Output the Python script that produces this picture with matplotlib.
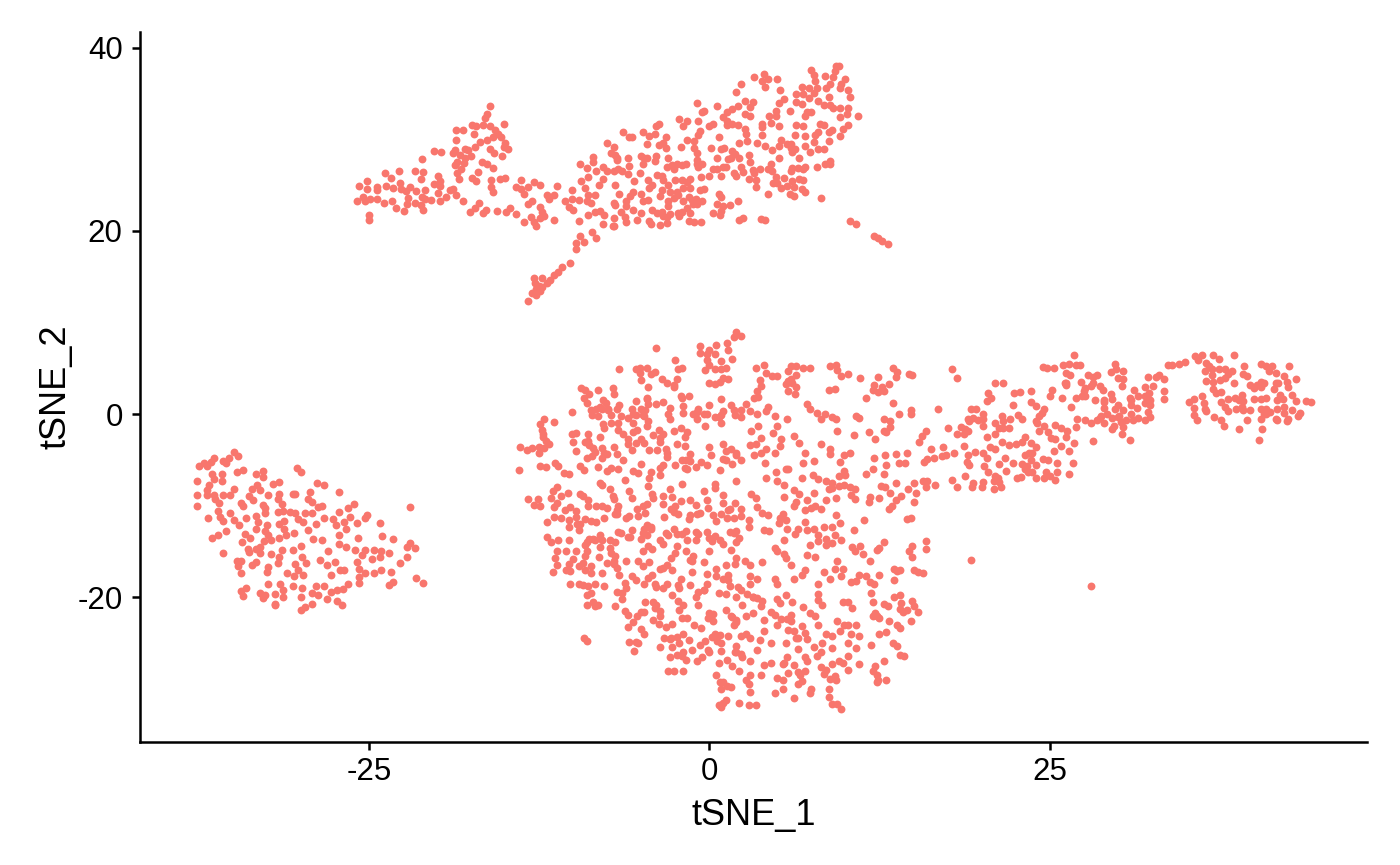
import numpy as np
import matplotlib
matplotlib.use("Agg")
import matplotlib.pyplot as plt

plt.rcParams['font.family'] = ['Liberation Sans', 'DejaVu Sans']
plt.rcParams['axes.unicode_minus'] = False

# Values, in tSNE units (approximate)
left_cluster = [
(-34.9,-4.1),(-34.6,-4.6),(-35.3,-4.8),(-35.7,-5.1),(-36.4,-4.8),(-36.6,-5.2),(-37.1,-5.4),(-37.5,-5.7),(-36.9,-5.7),(-35.5,-5.4),
(-34.2,-6.1),(-34.7,-6.3),(-32.8,-6.2),(-33.3,-6.5),(-32.8,-6.9),(-30.3,-5.9),(-30.0,-6.3),(-37.6,-7.3),(-36.5,-6.6),(-35.8,-6.5),
(-35.8,-7.3),(-36.4,-7.1),(-36.7,-7.8),(-36.9,-8.3),(-37.6,-8.8),(-36.9,-8.8),(-36.4,-8.8),(-36.3,-9.3),(-36.0,-9.7),(-35.7,-8.8),
(-35.2,-8.8),(-34.9,-8.2),(-37.6,-10.0),(-33.2,-7.7),(-33.0,-8.3),(-33.6,-8.2),(-33.8,-9.0),(-33.5,-9.4),(-32.4,-8.8),(-31.6,-7.4),
(-32.0,-7.6),(-31.6,-8.7),(-31.7,-9.3),(-31.4,-9.8),(-30.6,-8.7),(-30.4,-8.7),(-29.3,-8.5),(-28.8,-7.5),(-28.3,-7.7),(-29.5,-9.3),
(-29.2,-9.6),(-27.2,-8.5),(-34.4,-9.7),(-34.2,-10.0),(-32.8,-9.9),(-32.6,-10.3),(-32.6,-10.8),(-31.7,-10.7),(-31.3,-10.6),(-30.8,-10.7),
(-30.4,-10.8),(-29.7,-10.8),(-29.2,-10.8),(-28.4,-10.0),(-28.7,-10.1),(-26.1,-9.8),(-26.5,-10.3),(-27.2,-10.7),(-22.0,-10.2),(-25.1,-11.0),
(-25.3,-11.4),(-36.1,-10.6),(-36.8,-11.3),(-35.9,-11.2),(-35.7,-11.7),(-35.2,-10.8),(-34.9,-11.6),(-34.5,-12.1),(-34.0,-11.3),(-33.3,-11.1),
(-33.1,-11.8),(-33.3,-12.5),(-32.5,-12.1),(-32.6,-12.8),(-31.6,-12.0),(-31.2,-11.7),(-30.2,-11.5),(-29.8,-11.8),(-28.3,-11.4),(-28.9,-12.0),
(-27.6,-11.5),(-27.4,-12.1),(-26.4,-11.2),(-26.8,-11.8),(-25.9,-11.9),(-24.2,-11.9),(-35.5,-12.8),(-36.5,-13.5),(-36.1,-13.2),(-34.1,-13.1),
(-33.7,-13.5),(-32.4,-13.2),(-31.2,-12.6),(-31.1,-13.2),(-30.5,-13.0),(-29.5,-12.7),(-26.7,-12.5),(-27.2,-13.2),(-25.8,-13.5),(-24.0,-13.3),
(-23.2,-13.6),(-29.1,-13.6),(-28.4,-13.8),(-34.3,-14.0),(-33.9,-14.7),(-33.8,-15.1),(-32.7,-13.9),(-32.2,-13.8),(-31.6,-13.5),(-33.3,-14.7),
(-33.0,-14.5),(-33.0,-15.2),(-35.7,-15.2),(-31.4,-14.8),(-30.6,-14.8),(-30.0,-14.4),(-28.0,-15.0),(-27.2,-14.2),(-26.7,-14.5),(-26.0,-14.8),
(-25.3,-14.8),(-24.6,-14.8),(-24.1,-15.0),(-23.5,-15.2),(-22.0,-14.1),(-21.6,-14.6),(-22.2,-14.5),(-34.7,-16.0),(-34.4,-16.0),(-34.6,-16.6),
(-34.4,-17.3),(-33.6,-16.5),(-33.3,-16.1),(-32.2,-15.3),(-31.6,-15.6),(-31.7,-16.3),(-32.4,-16.7),(-32.5,-17.2),(-29.9,-15.6),(-30.4,-16.4),
(-29.6,-16.3),(-30.2,-17.0),(-28.6,-15.9),(-28.1,-16.5),(-27.5,-16.1),(-27.8,-17.6),(-27.1,-17.0),(-26.8,-17.0),(-25.9,-16.1),(-25.5,-15.4),
(-25.7,-16.9),(-25.3,-17.4),(-24.6,-17.4),(-24.1,-17.0),(-23.4,-17.2),(-24.8,-15.8),(-24.2,-15.6),(-22.7,-16.3),(-22.2,-15.6),(-31.0,-17.3),
(-30.5,-17.7),(-29.8,-17.6),(-32.4,-18.5),(-31.5,-18.5),(-31.3,-19.2),(-30.6,-18.8),(-29.9,-19.0),(-28.9,-18.8),(-28.3,-18.8),(-29.2,-19.5),
(-28.7,-19.8),(-27.8,-19.4),(-27.3,-19.2),(-26.9,-19.1),(-26.5,-18.5),(-25.7,-18.4),(-25.7,-17.8),(-23.5,-18.7),(-23.2,-18.3),(-21.5,-17.9),
(-21.0,-18.4),(-34.4,-19.3),(-34.0,-19.0),(-34.2,-19.9),(-33.0,-19.5),(-32.8,-20.1),(-32.6,-19.8),(-31.9,-19.6),(-31.3,-20.0),(-30.0,-20.0),
(-28.1,-20.2),(-27.3,-20.4),(-27.0,-20.9),(-29.2,-20.7),(-31.9,-20.7),(-31.9,-20.9),(-29.7,-21.1),(-30.0,-21.4),
]

top_cluster = [
(-16.1,33.6),(-16.3,32.8),(-16.5,32.3),(-16.6,31.5),(-17.4,31.5),(-17.1,31.4),(-16.1,31.4),(-15.7,31.0),(-15.5,30.6),(-15.1,31.7),
(-18.6,31.0),(-18.1,31.0),(-17.3,30.6),(-15.3,30.2),(-15.9,30.2),(-16.3,29.9),(-16.8,29.7),(-17.2,29.2),(-18.6,29.9),(-15.0,29.6),
(-15.1,29.1),(-14.8,28.9),(-16.1,28.9),(-15.8,28.5),(-15.2,28.2),(-18.7,28.8),(-18.8,28.5),(-17.9,28.9),(-17.7,28.8),(-18.3,28.3),
(-17.9,27.9),(-17.5,28.2),(-20.2,28.7),(-19.7,28.6),(-21.1,27.8),(-18.5,27.5),(-18.7,27.2),(-18.0,27.4),(-18.2,26.8),(-16.7,27.5),
(-16.3,27.3),(-15.9,26.9),(-18.5,26.3),(-18.4,25.7),(-17.0,26.4),(-17.4,25.8),(-17.1,25.4),
(-22.8,26.5),(-23.8,26.3),(-23.4,25.8),(-21.6,26.5),(-21.0,26.4),(-21.2,25.7),(-19.9,26.0),(-19.8,25.4),(-20.2,25.1),(-19.8,24.9),
(-25.7,24.9),(-25.1,25.4),(-24.4,24.8),(-24.4,24.4),(-25.1,24.6),(-23.7,24.9),(-23.2,24.7),(-22.7,25.2),(-22.6,24.6),(-22.0,24.8),
(-22.3,24.3),(-21.5,24.3),(-20.9,24.5),(-19.0,24.5),(-18.8,24.6),(-18.6,23.9),(-19.3,23.7),(-19.9,24.1),(-22.1,23.6),(-20.4,23.4),
(-20.9,23.5),(-21.1,23.7),(-24.4,23.5),(-24.9,23.5),(-25.4,23.7),(-25.9,23.2),(-25.3,23.3),(-23.3,23.3),(-23.9,23.0),(-22.2,22.9),
(-21.6,23.0),(-21.2,22.8),(-19.8,23.2),(-18.1,23.2),(-23.0,22.5),(-22.4,22.2),(-21.0,22.3),(-25.0,21.7),(-25.0,21.2),
(-17.6,22.0),(-17.2,22.5),(-16.9,23.0),(-16.4,22.3),(-16.6,21.9),(-15.6,22.2),(-14.9,22.0),(-14.6,22.5),(-14.2,21.8),
(-16.0,25.5),(-15.0,25.8),(-15.4,25.7),(-16.0,24.8),(-15.9,24.2),(-14.2,24.8),(-13.8,25.5),(-13.8,24.6),(-13.3,24.8),(-12.9,25.3),
(-12.4,25.0),(-11.2,24.9),(-13.6,24.0),(-13.0,23.2),(-13.3,22.9),(-12.4,22.6),(-12.3,22.0),(-12.4,21.4),(-11.9,23.9),(-11.4,23.9),
(-11.8,23.5),(-13.6,21.0),(-13.1,21.5),(-12.9,21.0),(-12.7,20.5),(-12.1,21.6),(-11.4,21.2),
(-10.6,23.2),(-10.1,24.5),(-10.1,23.5),(-9.6,23.4),(-10.3,22.6),(-10.0,22.3),(-8.9,21.7),(-9.6,21.1),(-8.4,22.1),(-8.0,22.2),
(-7.7,21.7),(-7.8,20.7),(-7.1,20.5),(-7.0,21.4),(-8.6,19.9),(-8.3,19.2),(-9.5,19.4),(-9.8,18.7),(-9.2,18.8),(-9.8,18.0),
(-10.2,16.5),(-10.8,16.1),(-11.4,15.2),(-11.9,14.3),(-12.3,14.8),(-12.8,14.3),(-12.7,13.7),(-12.3,13.9),(-13.0,13.2),(-12.7,13.0),
(-13.3,12.3),(-11.7,14.6),(-11.1,15.5),(-12.5,14.0),(-12.9,14.8),(-12.4,13.4),
(-9.5,27.3),(-9.0,26.9),(-8.5,28.1),(-8.5,27.5),(-9.4,25.4),(-8.9,25.9),(-9.1,24.7),(-8.3,26.5),(-7.8,27.0),(-7.5,26.5),
(-7.8,25.7),(-8.1,25.0),(-8.4,23.9),(-8.9,23.9),(-9.0,23.2),(-8.7,23.0),(-7.5,29.6),(-7.0,29.2),(-7.2,28.5),(-6.8,27.7),
(-7.0,26.5),(-6.9,25.0),(-6.6,24.0),(-6.9,22.8),
(9.3,38.0),(9.5,38.0),(7.5,37.5),(7.7,37.0),(7.8,36.4),(8.5,36.9),(9.2,37.4),(9.1,36.8),(10.0,36.6),(9.7,36.0),
(9.6,35.6),(8.9,36.0),(8.6,35.6),(10.2,35.4),(10.3,34.6),(8.8,34.6),(7.9,35.6),(7.7,35.0),(7.3,35.6),(6.8,35.7),
(7.3,34.5),(6.4,34.9),(6.9,34.9),(6.4,34.1),(6.8,33.8),(8.0,34.2),(8.4,33.7),(8.9,33.7),(9.1,33.4),(9.6,33.4),
(10.2,33.4),(10.1,32.7),(10.9,32.5),(9.6,32.4),(7.5,33.0),(7.2,33.0),(7.0,32.5),(3.3,36.8),(4.0,37.1),(4.35,36.6),
(5.0,36.6),(3.9,36.3),(4.1,35.7),(2.3,36.0),(2.0,35.1),(5.2,35.4),(5.5,34.4),(5.1,34.0),(2.6,34.2),(3.2,34.1),
(3.0,33.5),(2.1,33.6),(1.7,33.3),(1.3,33.0),(0.6,33.6),(-0.9,34.0),(-0.4,33.1),(-0.5,33.0),(5.9,33.1),(4.9,33.1),
(4.4,32.5),(4.9,32.5),(2.6,32.8),(3.0,32.5),(1.0,32.4),(1.3,32.0),(1.3,31.5),(1.7,31.7),(2.1,31.6),(2.6,31.1),
(3.9,31.7),(3.9,31.3),(4.5,31.8),(5.1,31.4),(6.4,31.5),(6.9,31.4),(8.1,31.7),(8.4,31.6),(10.2,31.5),(9.8,31.1),
(9.0,31.0),(8.8,30.8),(8.0,30.8),(7.8,30.5),(7.0,30.4),(6.3,30.5),(9.6,30.3),(8.8,29.8),(7.7,29.7),(-2.2,32.2),
(-1.9,31.4),(-1.6,32.0),(-0.8,32.0),(0.0,31.4),(0.3,31.7),(-0.7,30.9),(-0.8,30.5),(-6.3,30.8),(-5.9,30.2),(-5.7,30.2),
(-4.9,30.8),(-4.4,30.3),(-4.0,30.6),(-3.9,31.4),(-3.7,31.7),(-3.2,30.2),(-3.7,29.4),(-3.4,29.6),(-3.2,29.0),(-2.1,29.2),
(-1.6,29.9),(-1.1,29.8),(-1.1,29.0),(-0.9,28.5),(-0.9,27.7),(-0.8,27.0),(-0.9,27.3),(-0.5,27.3),(0.9,28.9),(1.1,29.0),
(1.7,28.7),(1.9,28.4),(2.2,28.0),(2.8,29.8),(3.5,29.6),(4.1,29.3),(4.6,28.8),(5.3,29.9),(5.1,29.3),(5.7,29.5),
(6.0,29.5),(6.0,29.0),(6.1,28.6),(6.3,28.9),(7.0,29.3),(7.4,28.6),(8.4,28.9),(8.0,28.9),(8.9,27.6),(8.9,27.3),
(8.5,27.3),(7.9,27.0),(7.0,27.0),(6.9,26.7),(6.5,26.9),(6.1,26.9),(6.0,26.5),(6.6,25.7),(6.9,25.5),(6.1,25.4),
(5.5,25.8),(5.0,25.2),(4.5,27.3),(4.6,26.5),(4.9,25.9),(3.2,26.6),(3.7,26.8),(4.3,26.8),(2.9,28.3),(3.0,27.5),
(2.3,27.0),(2.5,26.4),(2.0,26.0),(1.2,27.0),(0.6,28.0),(1.0,27.0),(1.4,27.8),(1.6,28.0),(0.6,26.8),(0.9,26.0),
(1.8,26.3),(2.9,25.6),(3.4,25.5),(3.4,24.8),(3.3,26.3),(4.3,24.0),(4.7,25.2),(5.3,24.7),(5.7,24.9),(6.2,24.8),
(6.8,24.6),(7.0,24.2),(8.2,23.6),(3.8,21.3),(5.9,24.0),(4.1,21.2),(6.2,23.8),(2.5,21.4),(2.2,21.2),
(-6.9,28.3),(-6.8,27.9),(-6.0,27.9),(-5.0,28.2),(-4.8,28.0),(-4.6,28.0),(-4.9,27.3),(-5.9,27.1),(-6.7,26.7),(-6.4,26.5),
(-6.0,26.2),(-5.1,26.3),(-4.5,25.5),(-3.8,26.1),(-3.5,26.0),(-3.4,25.5),(-3.0,25.0),(-2.5,25.5),(-2.0,25.5),(-1.6,25.3),
(-1.4,24.7),(-0.6,25.9),(-0.4,24.6),(-0.7,24.4),(-1.5,23.7),(-1.9,24.7),(-2.4,24.2),(-2.9,24.2),(-3.5,24.4),(-4.4,24.7),
(-4.2,25.0),(-5.5,25.4),(-5.8,23.8),(-5.6,24.2),(-6.1,23.3),(-5.0,24.0),(-4.9,23.2),(-4.5,23.4),(-3.6,23.8),(-3.0,23.2),
(-2.6,23.6),(-2.3,23.9),(-1.9,23.3),(-1.3,23.4),(-1.0,23.5),(-0.9,22.9),(0.7,24.0),(0.9,23.7),(2.1,23.2),(1.5,22.8),
(1.0,22.7),(0.9,22.2),(0.8,21.7),(0.3,21.9),(0.6,22.9),(-0.5,23.3),(-1.2,22.9),(-1.6,22.5),(-1.4,21.9),(-2.0,22.0),
(-3.0,22.7),(-3.5,22.1),(-4.2,22.3),(-5.0,21.9),(-5.6,22.3),(-6.1,22.7),(-6.5,22.0),(-6.2,21.5),(-5.3,21.2),(-4.4,21.1),
(-3.8,21.9),(-3.4,21.6),(-3.1,21.5),(-2.3,21.9),(-2.2,21.6),(-1.5,21.1),(-1.1,21.0),(-0.6,21.0),(-3.1,20.8),(-2.9,21.8),
(-6.1,21.0),(-7.0,20.5),(-4.3,20.7),(-3.6,20.6),(-7.0,23.0),(-2.4,27.3),(-2.6,26.8),(-3.1,27.0),(-2.7,27.2),(-3.0,27.9),
(-4.6,29.5),(-3.9,28.2),(-4.0,27.6),(-2.0,27.2),(-1.7,27.3),(2.7,30.6),(3.9,30.5),(2.2,29.6),(0.7,30.2),(0.1,29.0),
(0.3,26.7),(0.0,26.0),(-1.4,25.6),(6.6,28.0),(5.1,28.0),
(10.3,21.1),(10.8,20.7),(12.1,19.4),(12.4,19.2),(12.7,18.9),(13.1,18.6),
]

central_cluster = [
(-3.9,7.2),(-0.7,7.4),(1.2,5.0),(-0.2,6.5),(0.4,6.6),(-6.6,4.9),(-5.1,5.0),(-5.4,4.9),(-4.6,5.0),(-4.0,4.6),(-4.3,4.4),
(-5.1,4.5),(-5.0,3.7),(-3.5,3.8),(-3.1,3.4),(-2.5,5.9),(-2.0,5.0),(-2.3,4.9),(-2.4,3.8),(-2.6,3.2),(-2.6,3.0),(-0.7,6.7),(-0.2,5.9),(-0.0,5.3),
(-0.3,4.8),(0.4,4.9),(0.9,4.9),(0.9,5.8),(-0.0,7.0),(0.5,7.5),(1.3,7.7),(1.4,7.0),(1.8,8.4),(2.3,8.5),(2.0,8.9),(1.7,6.0),(1.0,3.9),
(1.4,3.8),(0.0,3.4),(0.4,3.3),(0.8,3.5),(-4.5,2.9),(-9.4,2.8),(-9.1,2.6),(-8.8,2.2),(-9.2,1.7),(-9.0,1.2),(-8.2,2.6),(-7.1,2.8),(-7.0,2.2),
(-7.8,1.5),(-7.6,1.2),(-8.0,0.8),(-7.4,0.6),(-8.7,0.4),(-8.3,0.6),(-7.9,0.5),(-7.4,0.4),(-7.2,-0.1),(-6.8,0.6),(-6.6,1.0),(-5.7,0.6),
(-5.4,1.4),(-4.6,1.7),(-5.6,0.0),(-6.0,-0.4),(-6.5,-0.2),(-5.4,-0.1),(-4.9,-0.1),(-5.0,0.6),(-4.5,1.1),(-4.6,1.6),(-4.7,0.4),(-3.9,1.1),
(-3.4,1.3),(-4.8,-0.2),(-4.5,-0.8),(-2.9,0.7),(-3.0,0.0),(-2.9,-0.5),(-2.1,2.0),(-2.0,1.8),(-1.9,0.9),(-1.9,0.1),(-1.5,2.0),(-1.2,0.0),
(0.9,1.6),(0.0,1.0),(-0.2,0.0),(-0.9,0.2),(-0.4,0.0),(-0.8,0.5),(-10.1,0.2),(-8.6,-0.1),(-8.2,-0.2),(-6.7,-1.0),(-7.8,-1.1),(-7.2,-1.0),
(-7.7,-1.5),(-6.7,-1.7),(-6.3,-2.2),(-5.6,-2.0),(-5.3,-1.7),(-5.6,-1.0),(-4.6,-1.3),(-4.1,-2.3),(-3.7,-1.7),(-3.6,-2.6),(-3.4,-2.2),(-2.6,-1.9),
(-2.1,-1.5),(-1.6,-2.0),(-1.8,-2.5),(-0.9,-0.5),(-0.3,-1.3),(0.4,-0.3),(0.7,-0.3),(0.9,-1.0),(0.9,-0.1),(1.0,0.3),(1.9,-0.1),(2.3,0.4),
(1.6,1.0),(1.8,0.4),(2.3,-0.3),(-12.1,-0.5),(-12.4,-1.1),(-12.3,-1.7),(-11.4,-0.9),(-10.1,-2.2),(-9.8,-2.1),(-9.1,-3.0),(-8.9,-2.2),(-8.0,-2.5),
(-7.0,-3.6),(-6.0,-2.7),(-6.0,-3.3),(-5.4,-3.2),(-5.0,-2.7),(-12.2,-2.2),(-12.2,-2.5),(-12.0,-2.9),(-11.8,-3.3),(-12.5,-3.6),(-13.9,-3.6),(-13.4,-3.9),(-13.0,-3.7),
(-12.1,-3.7),(-12.5,-4.3),(-10.0,-3.0),(-8.9,-2.9),(-8.8,-3.4),(-8.5,-3.7),(-8.4,-4.1),(-7.9,-3.7),(-7.7,-4.2),(-7.9,-4.8),(-7.5,-4.4),
(-8.6,-4.6),(-9.8,-4.0),(-6.8,-4.4),(-6.3,-5.0),(-5.7,-3.9),(-4.8,-3.2),(-4.4,-3.9),(-3.6,-3.1),(-3.8,-3.9),(-3.2,-3.8),(-2.4,-3.3),(-1.8,-3.5),
(-1.7,-5.0),(-1.4,-4.4),(0.0,-3.6),(-1.8,-5.9),(-3.1,-4.7),(-3.4,-5.6),(-3.6,-5.9),(0.1,-4.5),(1.0,-3.3),(1.6,-3.8),(1.2,-4.0),(2.0,-4.5),
(-14.0,-6.1),(-12.0,-5.8),(-12.4,-5.7),(-11.3,-5.4),(-11.1,-5.7),(-10.7,-6.4),(-10.3,-6.6),(-9.0,-4.8),(-9.5,-5.7),(-9.2,-6.1),(-8.2,-5.8),(-7.2,-5.9),(-7.5,-6.2),
(-6.7,-6.0),(-6.2,-7.2),(-5.6,-6.2),(-5.2,-6.4),(-5.0,-5.5),(-4.3,-6.3),(-4.4,-7.0),(-4.5,-7.9),(-3.6,-6.7),(-3.1,-4.2),(-2.5,-5.6),(-2.0,-5.0),
(-1.6,-6.0),(-1.4,-5.1),(-1.0,-5.8),(-0.6,-5.2),(-0.2,-5.6),(0.8,-6.1),(1.2,-5.0),(1.7,-5.5),(1.0,-4.9),(-11.6,-9.2),(-11.2,-9.7),(-11.4,-11.2),
(-10.4,-8.6),(-10.2,-10.1),(-9.8,-10.6),(-9.8,-11.2),(-8.0,-7.5),(-7.9,-7.7),(-7.3,-8.2),(-7.1,-8.9),(-7.0,-9.3),(-6.7,-10.0),(-5.9,-8.4),(-5.7,-9.2),
(-5.3,-10.4),(-4.9,-10.0),(-4.6,-9.8),(-4.2,-8.7),(-4.1,-9.2),(-3.4,-8.9),(-2.9,-8.2),(-2.7,-9.1),(-2.5,-10.0),(-2.6,-10.7),(-2.1,-9.5),(-1.4,-9.4),
(-1.4,-11.0),(-1.0,-9.9),(-0.4,-8.4),(-0.2,-9.4),(-0.1,-10.3),(0.3,-11.0),(1.0,-8.8),(1.0,-9.7),(1.5,-10.4),(1.9,-9.7),(2.3,-10.4),(2.3,-11.1),
(-13.3,-9.3),(-12.6,-9.3),(-12.9,-9.9),(-12.4,-10.0),(-11.5,-8.4),(-11.2,-8.0),(-10.9,-9.0),(-11.4,-10.1),(-10.6,-10.5),(-9.5,-8.7),(-9.3,-9.0),(-8.9,-9.4),
(-8.9,-10.0),(-8.3,-10.0),(-7.9,-10.0),(-7.5,-10.3),(-6.8,-10.5),(-6.8,-10.9),(-5.9,-11.1),(-5.2,-11.1),(-4.7,-10.8),(-3.4,-9.8),(-2.8,-10.4),(-2.0,-7.6),(-0.7,-10.8),(0.4,-7.6),(0.4,-8.1),(1.4,-10.5),
(-11.9,-11.8),(-10.9,-11.4),(-10.3,-11.6),(-9.7,-12.0),(-10.3,-12.3),(-9.5,-12.0),(-9.1,-11.5),(-8.7,-11.7),(-8.3,-11.8),(-7.7,-11.3),(-9.6,-12.7),(-6.9,-10.9),(-6.1,-11.4),(-3.3,-11.2),(-2.3,-10.9),(-1.5,-11.5),
(-0.9,-10.9),(0.5,-11.7),(0.9,-10.9),(1.3,-11.4),(1.8,-11.4),(-4.6,-12.1),(-4.3,-12.3),(-4.8,-12.5),(-2.6,-12.5),(-2.4,-13.1),(-1.7,-12.8),(-1.0,-12.9),(-0.2,-12.9),(0.4,-13.3),(0.8,-13.8),(1.8,-13.0),
(-6.5,-13.0),(-5.8,-13.4),(-8.0,-13.2),(-8.5,-13.6),(-11.1,-13.7),(-9.1,-14.3),(-7.3,-13.8),
(3.4,5.0),(4.0,5.3),(4.2,4.5),(4.6,4.1),(5.0,4.2),(5.8,4.7),(6.0,5.2),(6.4,5.2),(6.9,5.0),(7.4,5.0),(6.0,3.8),(5.8,3.6),(6.4,4.3),(6.1,3.4),
(3.7,3.7),(3.8,3.1),(8.9,5.2),(9.3,5.4),(9.4,4.8),(9.7,4.2),(10.2,4.4),(11.1,3.9),(12.1,3.2),(12.7,2.9),(13.2,3.3),(12.4,4.0),(13.5,5.0),(13.8,4.6),
(13.7,4.0),(14.7,4.4),(14.9,4.3),(3.5,2.5),(3.6,1.9),(5.6,3.3),(5.8,2.5),(6.3,2.2),(6.4,2.9),(8.8,2.6),(9.2,2.7),(12.0,2.6),(12.4,2.4),(12.8,2.5),
(11.5,1.8),(13.5,1.2),(12.8,-0.5),(13.3,-0.8),(13.9,0.0),(14.8,-0.0),(14.8,0.4),(3.3,1.7),(2.7,1.1),(3.0,0.3),(3.5,-0.0),(4.3,0.8),(4.2,0.3),
(4.8,-0.2),(5.7,-0.5),(5.0,-1.3),(7.2,1.1),(7.4,0.5),(7.9,0.1),(8.5,-0.0),(9.0,-0.3),(8.2,-0.5),(9.3,-0.5),(10.8,-0.2),(11.0,-0.4),(10.6,-2.3),(11.7,-2.0),(12.2,-2.7),
(13.0,-2.0),(12.8,-1.8),(13.3,-1.4),(15.9,-1.8),(15.6,-2.4),(15.4,-3.0),(3.6,-1.3),(3.1,-1.9),(3.8,-2.6),(4.7,-2.1),(4.2,-3.8),(3.8,-4.3),(4.8,-4.3),
(5.2,-3.5),(5.3,-2.7),(6.2,-2.4),(6.6,-3.2),(7.0,-4.2),(9.4,-1.8),(8.2,-3.3),(8.9,-3.8),(8.9,-4.4),(7.7,-5.1),(9.9,-4.5),(10.3,-4.3),(12.1,-4.8),(12.9,-4.5),
(13.7,-4.4),(13.9,-5.3),(14.4,-5.3),(14.5,-4.2),(15.8,-5.2),(16.5,-4.8),(2.3,-5.0),(2.0,-4.3),(3.0,-3.4),(3.4,-3.3),(3.3,-4.5),(5.6,-6.0),(5.8,-6.0),(4.1,-5.4),(2.0,-7.3),(4.2,-7.0),(4.9,-6.3),
(6.8,-7.0),(6.9,-5.3),(7.6,-6.7),(8.0,-7.1),(8.6,-7.3),(9.5,-6.8),(10.0,-6.7),(9.6,-5.2),(9.9,-6.2),(11.5,-6.6),(12.0,-6.0),(12.6,-7.9),(12.8,-6.5),(13.0,-5.6),(13.7,-7.5),(14.6,-8.2),(15.0,-7.5),
(16.0,-7.3),(16.6,-7.7),(15.9,-8.0),(15.7,-7.3),(3.4,-9.2),(3.1,-8.7),(3.9,-10.8),(5.0,-7.3),(5.5,-7.8),(6.2,-8.3),(6.6,-8.7),(5.5,-9.1),(6.2,-10.0),(6.4,-9.6),(7.2,-9.4),(7.5,-10.3),(7.0,-10.5),
(7.8,-10.0),(8.2,-10.4),(7.7,-8.6),(8.8,-8.2),(8.6,-9.4),(9.3,-9.2),(9.0,-8.1),(9.0,-7.5),(9.5,-7.9),(9.9,-7.7),(10.3,-8.0),(10.7,-8.2),(10.4,-8.8),(10.7,-9.3),(11.8,-9.1),(11.7,-9.6),
(12.5,-9.2),(12.9,-8.0),(13.3,-8.6),(13.7,-9.4),(14.1,-9.0),(15.0,-9.6),(15.2,-8.6),(13.4,-10.0),(13.2,-10.4),(14.8,-11.3),(14.5,-11.5),(2.9,-11.6),(3.5,-10.1),(4.3,-11.0),(5.4,-10.9),(5.6,-11.6),
(2.0,-12.8),(2.9,-12.3),(4.0,-12.7),(4.4,-12.8),(5.2,-11.4),(5.1,-11.9),(5.7,-12.5),(7.0,-11.8),(6.5,-12.5),(6.3,-13.1),(7.2,-12.7),(7.7,-12.5),(8.0,-13.2),(8.4,-12.3),(9.0,-12.3),(9.3,-11.0),(9.6,-11.9),(9.2,-13.2),(10.6,-12.7),(11.4,-11.6),
(5.5,-13.8),(7.4,-14.3),(8.6,-13.6),(9.0,-14.1),(9.7,-13.7),(11.1,-14.4),(12.3,-14.8),(15.9,-13.9),(15.9,-14.7),
(-11.9,-13.4),(-11.6,-14.0),(-10.3,-13.7),(-8.8,-13.6),(-9.0,-14.0),(-8.4,-13.8),(-7.9,-13.7),(-6.7,-12.9),(-6.9,-14.0),(-5.7,-12.7),(-4.9,-13.0),(-5.0,-13.6),(-4.6,-13.2),(-4.3,-12.6),(-3.2,-13.0),(-3.0,-13.2),
(-2.0,-13.1),(-1.6,-13.8),(-1.0,-13.8),(-0.8,-13.1),(-0.0,-13.5),(1.0,-14.2),(1.5,-12.9),(2.2,-13.5),(-10.5,-14.9),(-9.8,-15.0),(-9.0,-14.9),(-9.1,-15.5),(-8.1,-15.6),(-8.0,-14.5),(-7.2,-15.2),(-7.3,-14.6),(-6.9,-15.5),
(-6.0,-13.4),(-4.9,-15.0),(-4.5,-14.4),(-4.2,-14.7),(-3.6,-13.7),(-3.4,-14.2),(-2.5,-15.2),(-2.4,-14.4),(-1.7,-15.0),(-1.2,-15.5),(-1.3,-16.0),(-0.0,-14.9),(0.2,-13.9),(1.6,-14.8),(2.0,-14.0),
(-11.2,-15.0),(-11.3,-15.7),(-11.2,-16.5),(-10.0,-15.8),(-10.3,-16.4),(-9.6,-16.6),(-9.3,-16.3),(-8.7,-16.6),(-7.9,-17.3),(-7.5,-16.3),(-7.0,-16.4),(-7.0,-16.0),(-6.8,-16.8),(-6.1,-16.0),(-5.2,-16.0),(-4.9,-16.6),(-4.4,-16.2),(-3.6,-16.9),
(-2.8,-15.7),(-1.4,-15.9),(-0.4,-16.2),(-0.2,-17.5),(0.5,-16.9),(1.2,-16.5),(1.9,-16.4),(-10.5,-17.0),(-11.5,-17.2),(-10.2,-17.1),(-9.1,-17.0),(-8.7,-17.4),(-5.7,-17.7),(-4.5,-17.9),(-4.2,-17.6),(-3.4,-16.8),(-3.1,-16.5),
(-2.7,-17.0),(-2.1,-18.0),(-1.3,-17.2),(-0.2,-18.5),(0.5,-17.7),(-6.6,-17.6),(-6.2,-18.4),(-5.4,-18.1),(-4.8,-18.5),(-4.0,-18.6),(-3.1,-18.5),(-2.3,-18.7),(-1.4,-18.7),(-0.8,-19.4),(-0.4,-19.2),(1.0,-18.0),(2.1,-18.9),(1.4,-17.6),(1.5,-18.8),
(-10.2,-18.6),(-9.6,-18.6),(-9.3,-18.7),(-8.9,-18.8),(-8.4,-18.5),(-7.7,-18.8),(-6.4,-19.5),(-6.8,-19.4),(-6.1,-19.0),(-3.9,-18.9),(-3.4,-19.0),(-2.7,-19.7),(-2.2,-19.0),(-1.0,-20.0),(-0.4,-19.2),(0.7,-19.5),(1.2,-19.6),(1.4,-18.1),(2.0,-20.0),
(-8.7,-19.5),(-8.5,-20.5),(-8.2,-20.8),(-8.4,-21.0),(-9.0,-19.7),(-9.0,-20.8),(-6.9,-21.0),(-6.4,-20.2),(-4.7,-20.5),(-4.1,-20.5),(-3.9,-20.8),(-2.3,-20.4),(-2.2,-21.4),(-1.9,-20.9),(-0.8,-20.9),(0.0,-21.7),(1.2,-21.4),(1.6,-22.0),
(-6.0,-21.9),(-6.2,-21.5),(-5.3,-22.0),(-5.0,-21.6),(-4.8,-21.6),(-4.0,-21.2),(-3.6,-21.5),(-3.6,-22.0),(-2.0,-22.3),(-1.6,-22.3),(0.3,-22.6),(0.3,-21.8),(2.0,-22.7),
(-5.6,-22.7),(-5.0,-23.5),(-4.8,-24.0),(-4.1,-22.5),(-3.7,-22.9),(-3.2,-23.3),(-2.7,-22.9),(-1.1,-23.0),(-0.6,-23.4),(-0.1,-22.3),(0.4,-24.0),(0.6,-24.2),(0.8,-24.1),(1.4,-24.2),(0.6,-24.8),(1.7,-22.2),(2.3,-24.2),
(-6.0,-23.3),(-5.2,-25.0),(-5.4,-24.9),(-3.6,-25.4),(-3.3,-24.5),(-2.8,-24.4),(-2.4,-24.3),(-2.9,-24.6),(-2.2,-25.0),(-1.5,-24.7),(-1.9,-24.0),(-0.3,-24.8),(0.2,-24.3),(0.9,-25.0),(2.0,-25.3),
(-9.2,-24.5),(-9.0,-24.8),(-5.9,-24.9),(-5.5,-25.9),(-2.9,-26.5),(-2.7,-25.4),(-2.4,-26.3),(-1.9,-26.0),(-1.3,-25.8),(-0.7,-25.2),(-0.1,-25.8),(0.0,-26.0),(0.9,-25.9),(1.9,-26.0),(2.3,-26.2),
(-1.7,-26.8),(-2.0,-26.4),(-0.9,-27.0),(-0.5,-26.5),(0.7,-27.2),(1.3,-26.9),(1.7,-27.5),(2.2,-28.1),
(-3.0,-28.0),(-2.6,-28.0),(-1.9,-28.0),(0.5,-28.5),(0.8,-29.2),(0.9,-30.0),(1.3,-29.7),(1.0,-29.2),(1.6,-29.8),(0.7,-31.8),(0.9,-32.0),(1.0,-31.5),(1.2,-31.2),(2.2,-31.5),(2.9,-31.8),(3.4,-31.8),(3.0,-30.3),
(2.0,-15.7),(2.6,-16.0),(3.0,-16.5),(3.9,-16.1),(4.8,-14.6),(5.0,-14.9),(5.5,-15.3),(5.6,-15.7),(6.0,-16.5),(7.2,-15.4),(7.8,-15.6),(8.0,-13.9),(8.6,-14.3),(9.4,-16.0),(10.5,-14.5),(10.7,-15.0),(11.3,-15.3),(11.8,-16.0),
(12.5,-14.6),(12.8,-14.0),(14.9,-14.4),(14.7,-15.0),(14.9,-15.6),(3.5,-18.0),(3.0,-17.7),(3.0,-18.5),(2.8,-19.6),(3.2,-20.0),(4.8,-18.0),(5.0,-18.5),(5.6,-19.7),(6.2,-18.0),(7.0,-17.0),(6.8,-17.6),(8.0,-18.5),(8.4,-17.2),
(8.9,-18.0),(9.2,-16.9),(9.8,-16.9),(9.7,-17.7),(10.4,-18.3),(10.8,-18.2),(11.0,-17.6),(11.5,-17.7),(12.1,-18.6),(12.5,-17.6),(13.6,-16.9),(13.8,-17.1),(13.6,-18.1),(14.0,-17.0),(11.8,-18.3),(15.7,-17.3),(15.3,-17.2),(15.0,-17.0),
(2.4,-20.9),(2.3,-19.2),(3.5,-20.1),(3.2,-20.0),(3.8,-21.0),(4.5,-21.6),(5.0,-20.2),(5.2,-20.6),(6.1,-20.5),(6.9,-21.1),(8.0,-19.6),(8.0,-20.3),(8.3,-20.8),(9.8,-20.5),(10.2,-20.5),(10.5,-21.2),(11.9,-19.5),(12.0,-20.5),(12.8,-20.7),
(14.0,-19.8),(13.6,-20.0),(14.1,-20.6),(14.5,-21.4),(14.2,-21.6),(12.3,-22.0),(12.2,-21.7),(13.1,-21.0),(14.0,-21.3),(14.8,-22.6),(14.9,-20.4),(15.3,-21.6),(15.0,-21.0),(3.9,-20.4),
(1.8,-23.0),(2.0,-22.5),(2.7,-22.0),(3.2,-21.7),(4.0,-22.5),(4.8,-21.9),(5.0,-23.0),(5.3,-22.4),(5.7,-22.4),(6.0,-21.9),(6.0,-22.6),(6.8,-23.1),(7.4,-21.7),(7.8,-22.0),(8.0,-23.0),(9.4,-22.6),(9.9,-23.0),(10.2,-23.0),(10.8,-23.0),(12.0,-22.0),(12.5,-22.3),(13.2,-22.6),
(13.8,-23.0),(14.0,-23.4),(2.7,-24.0),(3.0,-24.5),(3.7,-24.7),(4.5,-25.0),(4.0,-23.7),(5.8,-23.6),(6.2,-23.7),(6.4,-24.4),(5.6,-25.0),(6.5,-25.6),(7.0,-23.9),(6.5,-24.5),(7.2,-24.6),
(8.3,-25.0),(7.7,-25.4),(8.2,-26.0),(9.0,-24.2),(9.0,-25.5),(7.9,-26.4),(8.6,-24.0),(9.6,-23.7),(10.4,-24.0),(11.0,-24.2),(10.2,-25.0),(10.8,-25.5),(11.9,-25.2),(12.5,-24.0),(13.0,-23.8),(13.5,-25.0),(13.8,-25.3),(14.3,-26.4),(14.0,-26.3),
(2.0,-26.0),(2.4,-26.5),(3.0,-27.0),(3.5,-25.8),(4.5,-27.2),(4.0,-27.4),(5.4,-27.3),(5.7,-26.5),(5.5,-27.2),(6.2,-27.4),(7.0,-26.5),(7.0,-28.0),(7.2,-27.0),(6.7,-28.5),(5.8,-28.3),(6.5,-28.2),(8.2,-27.6),(8.6,-27.9),(8.4,-28.4),(9.0,-27.3),
(9.2,-28.6),(9.5,-27.0),(9.8,-27.2),(10.2,-26.4),(10.2,-27.9),(11.0,-27.3),(12.2,-27.5),(12.3,-28.5),(12.0,-28.0),(12.4,-29.0),(13.0,-29.0),(12.3,-29.2),(12.8,-27.0),
(2.7,-29.0),(3.0,-28.5),(2.9,-29.5),(3.8,-28.5),(5.4,-29.0),(5.0,-28.8),(5.4,-30.0),(6.8,-29.1),(6.5,-29.5),(4.8,-30.5),(6.2,-31.0),(8.8,-30.0),(8.8,-30.9),(8.9,-28.9),(9.3,-29.0),(7.5,-30.0),(7.4,-30.4),(9.0,-31.7),(9.7,-32.2),(9.4,-31.6),
]

right_cluster = [
(17.8,4.9),(18.2,3.9),(16.8,0.5),(16.3,-3.8),(16.0,-4.9),(17.1,-4.6),(17.4,-4.5),(17.2,-3.6),(17.5,-1.5),(18.2,-2.2),(18.0,-4.2),(18.7,-3.5),
(18.8,-1.6),(19.1,-0.8),(19.0,-4.5),(18.9,-5.2),(19.5,-4.1),(17.8,-7.2),(18.8,-6.8),(19.4,-7.5),(18.2,-8.0),(19.3,-8.0),(20.1,-7.4),(20.0,-8.0),(20.9,-8.2),(21.4,-8.0),(19.1,-5.6),
(19.0,-1.9),(19.2,0.5),(19.4,-0.4),(18.7,-2.2),(19.7,-0.6),(20.1,-1.3),(20.4,-2.5),(20.6,-3.6),(20.1,-4.2),(20.4,-4.8),(20.2,-5.7),(20.5,-6.3),(20.9,-7.3),(21.2,-7.0),(21.8,-6.2),(21.3,-5.5),(21.7,-4.8),(21.0,-3.8),(21.5,-3.0),(22.0,-3.4),
(22.0,-1.5),(21.3,-1.5),(22.1,-0.5),(21.6,-0.8),(21.5,-0.2),(22.5,-3.3),(23.0,-3.0),(23.2,-2.5),(23.6,-3.2),(23.5,-4.2),(23.2,-4.5),(23.6,-5.0),(22.3,-5.3),(23.2,-6.0),(24.0,-7.0),(24.7,-6.3),(24.6,-7.0),(25.5,-5.4),(24.9,-5.0),(25.0,-6.8),
(24.0,-3.6),(24.5,-4.9),(25.5,-6.3),(25.3,-4.0),(23.7,-4.2),(25.1,-2.6),(25.8,-3.5),(25.8,-1.5),(25.4,-1.2),(24.6,-1.3),(24.1,-1.0),(23.0,-0.5),(22.7,-0.1),(22.3,1.0),(24.0,0.9),(22.4,2.3),(22.8,2.4),(23.6,2.5),(24.4,0.1),(24.2,-0.2),(24.6,0.5),(23.6,1.3),
(21.0,3.4),(21.6,3.4),(20.5,2.3),(20.7,1.8),(20.4,1.4),(19.6,0.5),(20.1,-0.5),(19.0,-0.5),(20.1,0.0),(21.0,-2.2),(21.0,-1.0),(21.6,-1.5),(24.0,-0.8),(24.2,-1.8),(24.9,-2.0),(25.4,-2.7),(26.3,-1.9),(26.2,-2.5),(26.4,-4.0),(26.7,-5.4),(26.4,-6.5),
(23.0,-5.5),(23.3,-5.7),(23.7,-6.3),(23.4,-6.3),(24.0,-5.6),(22.6,-7.0),(22.9,-6.9),(21.0,-6.8),(21.3,-7.4),(18.5,-1.4),(25.4,-7.2),(26.9,-1.4),(26.8,-3.2),(28.0,-1.0),(27.0,-0.5),
(25.2,2.6),(25.0,2.0),(25.9,1.7),(26.1,3.4),(26.2,4.5),(26.8,6.4),(26.0,5.3),(26.4,5.5),(26.9,5.3),(27.2,5.3),(25.3,5.0),(24.5,5.1),(24.8,5.0),(26.2,3.4),(26.5,4.3),(27.3,3.5),(27.8,4.3),(28.2,4.0),(28.5,4.3),(28.2,3.4),(28.7,3.1),(27.6,2.8),(28.0,3.1),(28.9,2.6),
(26.2,3.2),(26.9,1.7),(27.5,2.5),(27.6,2.0),(28.3,1.5),(26.6,0.8),(27.4,2.0),(29.0,1.5),(29.8,5.5),(29.9,4.9),(29.5,4.6),(30.0,3.9),(30.4,4.7),(30.4,3.8),(30.3,3.1),
(29.2,0.0),(29.0,1.3),(29.0,0.7),(29.5,2.2),(29.6,1.6),(30.0,1.0),(29.8,0.5),(29.6,-0.4),(30.0,-0.3),(30.4,0.4),(30.1,-0.2),(30.6,-0.6),(31.1,-0.6),(31.4,0.7),(31.5,-0.4),(32.0,-0.6),(32.4,-0.3),(32.2,0.2),
(28.8,-0.2),(28.7,-0.4),(29.0,-1.0),(28.5,-0.6),(28.2,-2.9),(27.6,-0.6),(29.7,-1.3),(29.6,-1.6),(30.4,-1.4),(30.2,-0.9),(30.9,-2.8),(30.3,-2.2),
(31.0,1.5),(30.9,1.8),(31.0,1.0),(32.0,2.9),(32.3,2.3),(32.0,2.0),(32.6,3.1),(32.2,4.0),(33.0,4.3),(33.4,3.8),(33.4,2.5),(32.8,4.0),(33.7,5.4),(34.0,5.3),(34.5,5.5),(34.9,5.7),
(32.4,1.0),(32.4,1.5),(33.4,1.6),(32.0,1.2),(31.0,0.0),(31.5,2.0),(31.2,2.6),
(35.7,6.3),(36.2,6.4),(35.9,5.9),(37.0,6.4),(37.4,6.0),(38.5,6.4),(36.5,5.6),(36.7,5.2),(36.4,4.7),(36.9,4.9),(37.4,4.9),(37.9,4.9),(38.4,4.7),(38.1,4.4),
(39.3,5.2),(39.2,4.4),(39.5,4.1),(36.9,4.3),(37.5,3.7),(37.0,3.5),(36.5,3.6),(37.9,3.9),(38.5,3.4),(37.0,2.7),(37.6,2.4),(37.2,2.3),
(40.5,5.5),(40.9,5.2),(41.3,5.2),(41.6,4.5),(41.1,4.7),(42.6,5.2),(43.1,3.8),(42.2,4.1),(42.4,3.5),(41.6,3.4),(41.8,3.4),(41.5,2.7),(42.5,3.0),(40.5,3.5),(40.2,3.2),(39.7,3.2),(40.0,2.8),(40.5,3.0),(40.7,3.4),
(35.2,1.3),(35.6,1.6),(35.6,0.7),(36.2,2.0),(36.3,1.2),(36.4,0.6),(36.5,0.3),(35.6,-0.1),(35.8,-0.6),(37.1,-0.3),(37.6,-0.65),(37.8,-1.3),(37.6,1.3),(37.9,0.8),(38.1,0.3),(38.1,1.6),(38.6,1.7),(39.1,2.1),(38.9,1.5),(39.2,1.4),
(38.7,0.6),(39.1,0.8),(39.2,0.4),(39.7,0.4),(39.5,-0.6),(38.9,-1.6),(40.0,1.6),(40.5,1.6),(40.9,1.7),(41.9,2.1),(41.7,1.5),(42.1,1.6),(42.8,2.1),(43.1,1.4),(43.8,1.4),(44.2,1.3),(42.2,0.8),(41.7,0.55),(40.5,0.5),(40.9,0.6),
(41.2,0.25),(40.7,0.0),(42.2,0.1),(42.8,0.4),(43.4,0.15),(43.2,-0.2),(40.9,0.0),(41.6,-0.5),(41.7,-0.65),(42.5,-0.5),(42.4,-0.8),(40.5,-0.55),(40.6,-1.6),(40.4,-2.8),
(19.2,-15.9),(28.0,-18.8),
]

x_ticks = [-25, 0, 25]
y_ticks = [-20, 0, 20, 40]
x_label = "tSNE_1"
y_label = "tSNE_2"
point_colour = "#F8766D"

clusters = [left_cluster, top_cluster, central_cluster, right_cluster]
points = np.array([p for c in clusters for p in c])

fig = plt.figure(figsize=(14, 8.65), dpi=100)
ax = fig.add_axes([140/1400, 1-742/865, (1367-140)/1400, (742-32)/865])
ax.scatter(points[:, 0], points[:, 1], s=32, c=point_colour, linewidths=0, clip_on=False)
ax.set_xlim(-41.8, 48.3)
ax.set_ylim(-35.8, 41.7)
ax.set_xticks(x_ticks)
ax.set_yticks(y_ticks)
ax.set_xlabel(x_label, fontsize=26, labelpad=8)
ax.set_ylabel(y_label, fontsize=26, labelpad=3)
ax.tick_params(labelsize=22.5, width=1.8, length=5.5, color='black', labelcolor='black')
ax.tick_params(axis='x', pad=5)
ax.tick_params(axis='y', pad=7)
for s in ['top', 'right']:
    ax.spines[s].set_visible(False)
for s in ['left', 'bottom']:
    ax.spines[s].set_linewidth(1.8)
fig.savefig("out.png", dpi=100)
